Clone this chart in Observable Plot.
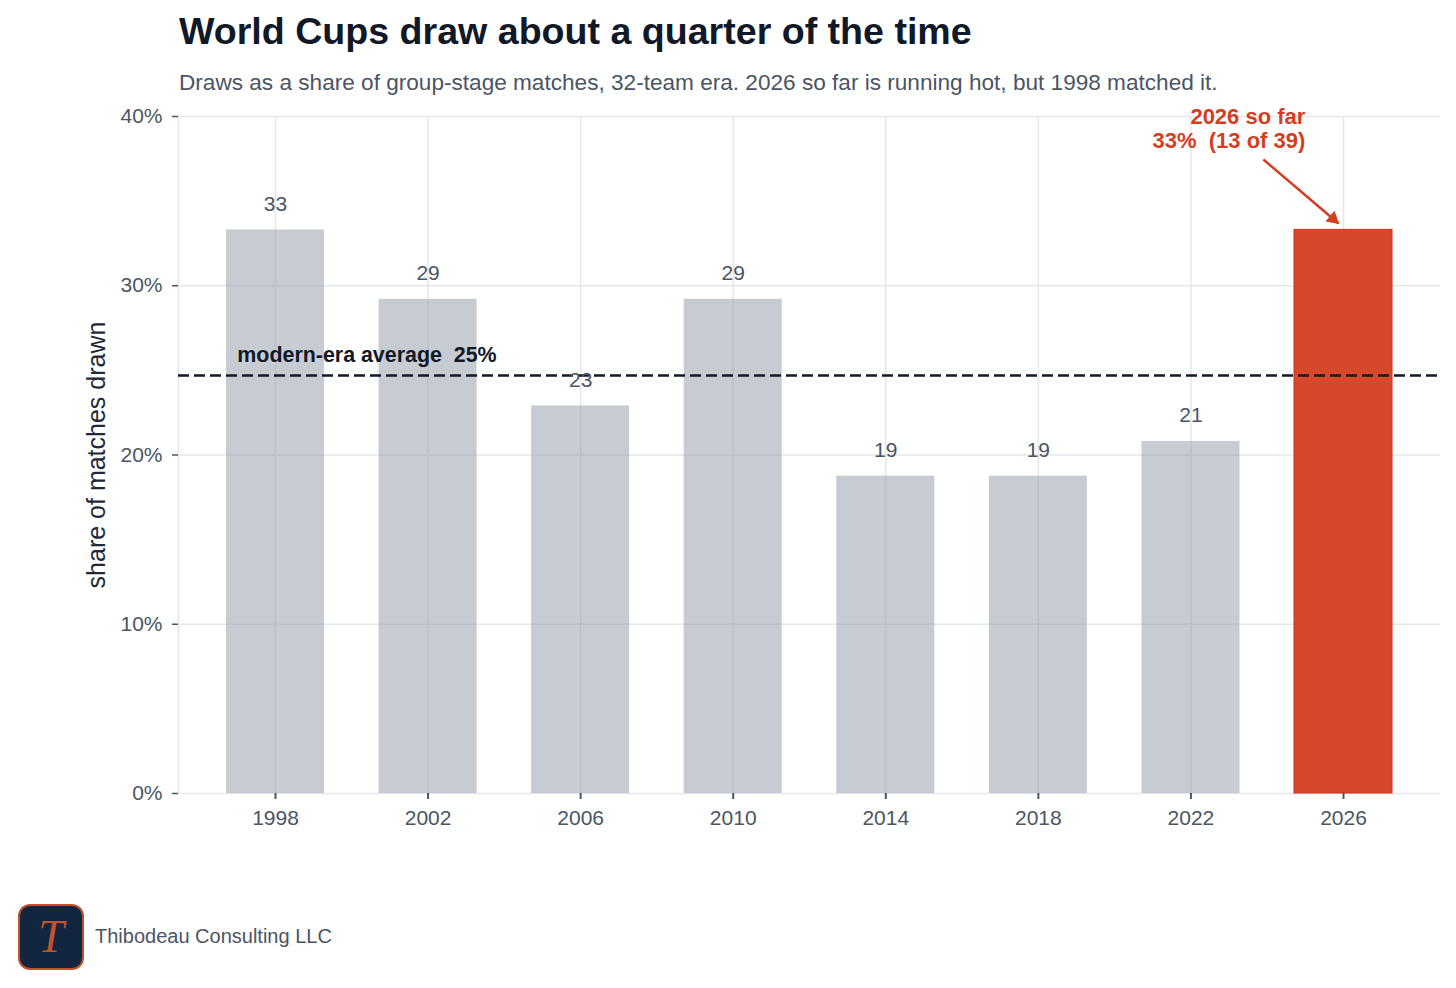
<!DOCTYPE html>
<html>
<head>
<meta charset="utf-8">
<script src="https://cdn.jsdelivr.net/npm/d3@7"></script>
<script src="https://cdn.jsdelivr.net/npm/@observablehq/plot@0.6"></script>
<style>
  html, body { margin: 0; padding: 0; background: #ffffff; }
  body { font-family: "Liberation Sans", Arial, Helvetica, sans-serif; }
  #page { position: relative; width: 1456px; height: 988px; overflow: hidden; background: #fff; }
  #title { position: absolute; left: 179px; top: 13px; font-size: 37.6px; line-height: 1; font-weight: bold; color: #111827; white-space: nowrap; }
  #subtitle { position: absolute; left: 179px; top: 72px; font-size: 22.6px; line-height: 1; color: #4b5563; white-space: nowrap; }
  #chart { position: absolute; left: 0; top: 96px; }
  #chart svg text { white-space: pre; }
  #logo { position: absolute; left: 18px; top: 904px; width: 62px; height: 62px; border: 2px solid #c0532f; border-radius: 12px; background: #12263f; display: flex; align-items: center; justify-content: center; }
  #logo span { font-family: "Liberation Serif", "DejaVu Serif", serif; font-style: italic; font-size: 46px; color: #c0532f; line-height: 1; }
  #credit { position: absolute; left: 95px; top: 926px; font-size: 20px; line-height: 1; color: #4b5563; white-space: nowrap; }
</style>
</head>
<body>
<div id="page">
  <div id="title">World Cups draw about a quarter of the time</div>
  <div id="subtitle">Draws as a share of group-stage matches, 32-team era. 2026 so far is running hot, but 1998 matched it.</div>
  <div id="chart"></div>
  <div id="logo"><span>T</span></div>
  <div id="credit">Thibodeau Consulting LLC</div>
</div>
<script>
// ---- data ----
const years = [1998, 2002, 2006, 2010, 2014, 2018, 2022, 2026];
const shares = [0.333, 0.292, 0.229, 0.292, 0.1875, 0.1875, 0.208, 0.333];
const highlightYear = 2026;
const average = 0.247;
const averageLabel = "modern-era average  25%";
const yTicks = [0, 0.1, 0.2, 0.3, 0.4];
const annotationLines = ["2026 so far", "33%  (13 of 39)"];
const annotationAt = [{x: 2025.0, y: 0.393}];
const arrowPath = [{x1: 2023.9, y1: 0.3746, x2: 2025.87, y2: 0.3368}];

const data = years.map((year, i) => ({year, share: shares[i]}));
const past = data.filter(d => d.year !== highlightYear);
const current = data.filter(d => d.year === highlightYear);

const gray = "#9ca3af";
const red = "#d9472b";
const redText = "#d43d1f";
const ink = "#111827";
const tickInk = "#4b5563";
const half = 1.285;
const xDomain = [1995.457, 2028.543];

const chart = Plot.plot({
  width: 1456,
  height: 747,
  marginLeft: 178,
  marginRight: 16,
  marginTop: 20,
  marginBottom: 50,
  style: {fontFamily: '"Liberation Sans", Arial, sans-serif', fontSize: "21px", background: "#fff"},
  x: {type: "linear", domain: xDomain},
  y: {domain: [0, 0.4]},
  marks: [
    Plot.gridX(years, {stroke: "#e5e7eb", strokeOpacity: 1, strokeWidth: 1.5}),
    Plot.gridY(yTicks, {stroke: "#e5e7eb", strokeOpacity: 1, strokeWidth: 1.5}),
    Plot.ruleX([xDomain[0]], {stroke: "#e5e7eb", strokeWidth: 1.5}),
    Plot.rectY(past, {x1: d => d.year - half, x2: d => d.year + half, y: "share", fill: gray, fillOpacity: 0.56}),
    Plot.rectY(current, {x1: d => d.year - half, x2: d => d.year + half, y: "share", fill: red, stroke: "#cc3518", strokeWidth: 1}),
    Plot.ruleY([average], {stroke: ink, strokeWidth: 2.5, strokeDasharray: "11,5"}),
    Plot.text([average], {x: 1997.0, y: d => d, text: () => averageLabel, textAnchor: "start", dy: -20, fontWeight: "bold", fontSize: 21.4, fill: ink}),
    Plot.text(past, {x: "year", y: "share", text: d => String(Math.round(d.share * 100)), dy: -26, fill: tickInk, fontSize: 21}),
    Plot.text(annotationAt, {x: "x", y: "y", text: () => annotationLines.join("\n"), textAnchor: "end", lineHeight: 1.09, fill: redText, fontWeight: "bold", fontSize: 22}),
    Plot.link(arrowPath, {x1: "x1", y1: "y1", x2: "x2", y2: "y2", stroke: redText, strokeWidth: 2.5}),
    Plot.dot(arrowPath, {x: "x2", y: "y2", symbol: "triangle", r: 5.2, rotate: 130.5, dx: -5.5, dy: -4.7, fill: redText, stroke: "none"}),
    Plot.axisX({ticks: years, tickFormat: d => String(d), tickSize: 6, tickPadding: 11, color: tickInk, strokeWidth: 2, fontSize: 21, label: null}),
    Plot.axisY({ticks: yTicks, tickFormat: d3.format(".0%"), tickSize: 6, tickPadding: 10, color: tickInk, strokeWidth: 1.5, fontSize: 21, label: null}),
    Plot.text(["share of matches drawn"], {frameAnchor: "left", textAnchor: "middle", dx: -82, rotate: -90, text: d => d, fill: "#1f2937", fontSize: 25})
  ]
});
document.getElementById("chart").appendChild(chart);
</script>
</body>
</html>
